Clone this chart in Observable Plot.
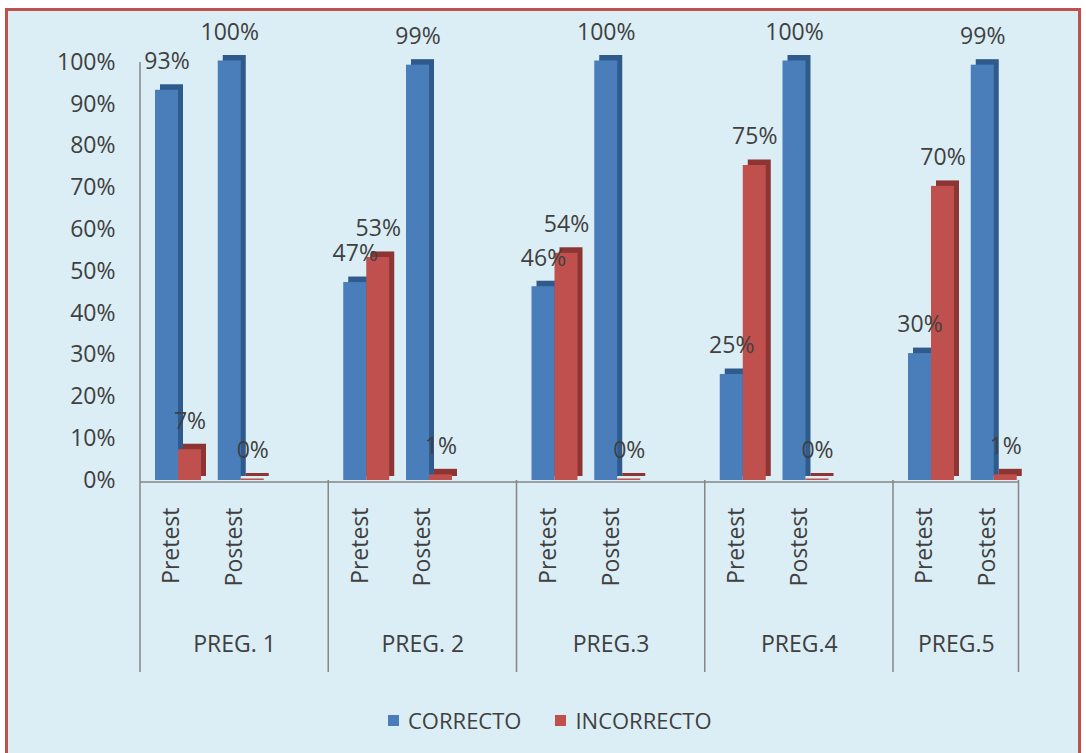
<!DOCTYPE html>
<html>
<head>
<meta charset="utf-8">
<script src="https://cdn.jsdelivr.net/npm/d3@7"></script>
<script src="https://cdn.jsdelivr.net/npm/@observablehq/plot@0.6"></script>
<style>
  body { margin: 0; background: #ffffff; font-family: "Open Sans", sans-serif; }
  #wrap { position: relative; width: 1086px; height: 753px; overflow: hidden; }
  #frame { position: absolute; left: 5px; top: 8px; width: 1076px; height: 748px; box-sizing: border-box;
           border: 3px solid #c0504d; background: #dbeef5; }
  #chart { position: absolute; left: 0; top: 0; }
  #legend { position: absolute; top: 704px; left: 388px; display: flex; align-items: center;
            font-size: 22px; line-height: 32px; color: #404040; white-space: nowrap; }
  .item { display: flex; align-items: center; margin-right: 34px; }
  .sw { width: 11px; height: 11px; margin-right: 9px; }
</style>
</head>
<body>
<div id="wrap">
  <div id="frame"></div>
  <div id="chart"></div>
  <div id="legend"></div>
</div>
<script>
// ---- data ----
const groups = ["PREG. 1", "PREG. 2", "PREG.3", "PREG.4", "PREG.5"];
const tests = ["Pretest", "Postest"];
const series = ["CORRECTO", "INCORRECTO"];
// values in percent, order: PREG1 Pretest, PREG1 Postest, PREG2 Pretest, ...
const correcto   = [93, 100, 47, 99, 46, 100, 25, 100, 30, 99];
const incorrecto = [7, 0, 53, 1, 54, 0, 75, 0, 70, 1];
const yTicks = [0, 0.1, 0.2, 0.3, 0.4, 0.5, 0.6, 0.7, 0.8, 0.9, 1];

const colors = ["#4a7ebb", "#c0504d"];
const sideColors = ["#2f5a8c", "#8c3532"];
const ink = "#404040";
const lineColor = "#868686";

// ---- build table ----
const key = (g, t) => g + "|" + t;
const rows = [];
const testRows = [];
groups.forEach((g, gi) => tests.forEach((t, ti) => {
  const i = gi * tests.length + ti;
  testRows.push({group: g, test: t, key: key(g, t)});
  rows.push({group: g, test: t, key: key(g, t), series: series[0], value: correcto[i] / 100});
  rows.push({group: g, test: t, key: key(g, t), series: series[1], value: incorrecto[i] / 100});
}));
// three slots per group (Pretest, Postest, gap), the last group without gap
const domain = groups.flatMap((g, gi) =>
  gi < groups.length - 1 ? [key(g, "Pretest"), key(g, "Postest"), key(g, "")] : [key(g, "Pretest"), key(g, "Postest")]);

const width = 1086, height = 690;
const mL = 140, mR = 67.5, mT = 62, mB = 18;
const W = (width - mL - mR) / domain.length;  // slot width
const barW = 23, pad = 15, lw = 1.5;
const below = -192; // how far the category separators reach under the baseline
const ins = [
  {insetLeft: pad, insetRight: W - pad - barW},
  {insetLeft: pad + barW, insetRight: W - pad - 2 * barW}
];
const centerDx = [pad + barW / 2 - W / 2, pad + 1.5 * barW - W / 2];
const fmt = d3.format(".0%");
const last = groups[groups.length - 1];

const marks = [];
series.forEach((s, si) => {
  const sub = rows.filter(d => d.series === s);
  marks.push(Plot.barY(sub, {x: "key", y: "value", fill: sideColors[si], dx: 5, dy: -4, insetTop: -3, ...ins[si]}));
  marks.push(Plot.barY(sub, {x: "key", y: "value", fill: colors[si], insetTop: -1.5, ...ins[si]}));
});
series.forEach((s, si) => {
  marks.push(Plot.text(rows.filter(d => d.series === s), {
    x: "key", y: "value", text: d => fmt(d.value), dx: centerDx[si], dy: -30, fill: ink
  }));
});

const chart = Plot.plot({
  width, height,
  marginLeft: mL, marginRight: mR, marginTop: mT, marginBottom: mB,
  style: {fontFamily: "Open Sans, sans-serif", fontSize: "23px", color: ink, background: "transparent", overflow: "visible"},
  x: {domain, padding: 0, round: false, axis: null},
  y: {domain: [0, 1], range: [480, 62], ticks: yTicks, tickFormat: fmt, tickSize: 0, tickPadding: 25, label: null},
  marks: [
    // value axis line (runs on down as the first category separator)
    Plot.barY([key(groups[0], "Pretest")], {x: d => d, y1: 0, y2: 1, insetLeft: -lw / 2, insetRight: W - lw / 2, insetBottom: below, fill: lineColor}),
    // category separators below the baseline
    Plot.barY(groups.slice(1).map(g => key(g, "Pretest")), {x: d => d, y1: 0, y2: 0, insetLeft: -lw / 2, insetRight: W - lw / 2, insetBottom: below, fill: lineColor}),
    Plot.barY([key(last, "Postest")], {x: d => d, y1: 0, y2: 0, insetLeft: W - lw / 2, insetRight: -lw / 2, insetBottom: below, fill: lineColor}),
    Plot.ruleY([0], {dy: 1.5, stroke: lineColor, strokeWidth: lw}),
    ...marks,
    // category labels
    Plot.text(testRows, {x: "key", y: 0, text: "test", rotate: -90, textAnchor: "end", dy: 27, fill: ink}),
    Plot.text(testRows.filter(d => d.test === "Postest" && d.group !== last), {x: "key", y: 0, text: "group", dy: 164, fill: ink}),
    Plot.text(testRows.filter(d => d.test === "Pretest" && d.group === last), {x: "key", y: 0, text: "group", dx: W / 2, dy: 164, fill: ink})
  ]
});
document.getElementById("chart").appendChild(chart);

const legend = document.getElementById("legend");
series.forEach((s, si) => {
  const item = document.createElement("div");
  item.className = "item";
  item.innerHTML = `<span class="sw" style="background:${colors[si]}"></span><span>${s}</span>`;
  legend.appendChild(item);
});
</script>
</body>
</html>
